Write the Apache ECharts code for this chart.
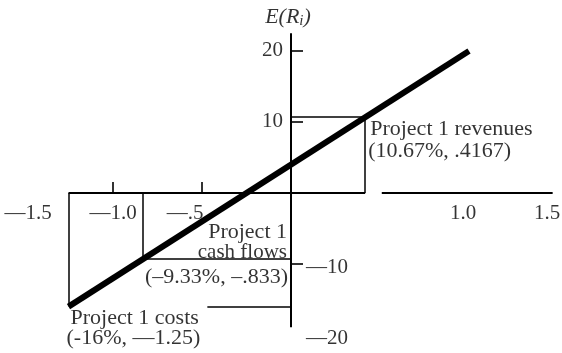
<!DOCTYPE html>
<html><head><meta charset="utf-8">
<script src="https://cdn.jsdelivr.net/npm/echarts@6/dist/echarts.min.js"></script>
<style>html,body{margin:0;padding:0;background:#fff}#c{width:562px;height:353px}</style>
</head><body><div id="c"></div>
<script>
// ---------- data ----------
const betaTickValues = [-1.5, -1.0, -0.5, 1.0, 1.5];
const betaTickLabels = ['—1.5', '—1.0', '—.5', '1.0', '1.5'];
const betaTickMarks = [-1.0, -0.5];
const returnTickValues = [20, 10, -10, -20];
const returnTickLabels = ['20', '10', '—10', '—20'];
const returnTickMarks = [20, 10, -10];
const lineBeta = [-1.25, 1.0];
const lineReturn = [-16, 20];
const projectBeta = [-1.25, -0.833, 0.4167];
const projectReturn = [-16, -9.33, 10.67];
const projectNames = ['Project 1 costs', 'Project 1', 'Project 1 revenues'];
const projectSubNames = ['', 'cash flows', ''];
const projectCoords = ['(-16%, —1.25)', '(–9.33%, –.833)', '(10.67%, .4167)'];
const betaAxisSpans = [[-1.25, 0.4167], [0.51, 1.47]];
const returnAxisSpan = [-18.9, 22.5];
const costsGuideFrom = -0.47;

// ---------- layout / style ----------
const FONT = 'Liberation Serif';
const FS = 21;
const FS_NOTE = 22;
const betaLabelNudge = [4, 0, -17, -6, -11];
const ink = '#000';

const chart = echarts.init(document.getElementById('c'), null, {renderer: 'canvas'});

function txt(x, y, text, align, dx, dy, size) {
  return {
    value: [x, y],
    label: {
      show: true, position: 'inside', formatter: text,
      align: align, verticalAlign: 'middle', offset: [dx, dy],
      fontFamily: FONT, fontSize: size || FS, color: ink
    }
  };
}

const texts = [];
betaTickValues.forEach((v, i) => texts.push(txt(v, 0, betaTickLabels[i], 'center', betaLabelNudge[i], 20)));
returnTickValues.forEach((v, i) => {
  if (v > 0) texts.push(txt(0, v, returnTickLabels[i], 'right', -8, -1));
  else texts.push(txt(0, v, returnTickLabels[i], 'left', 15, 3));
});
// costs
texts.push(txt(projectBeta[0], projectReturn[0], projectNames[0], 'left', 2, 12, FS_NOTE));
texts.push(txt(projectBeta[0], projectReturn[0], projectCoords[0], 'left', -2, 32, FS_NOTE));
// cash flows (anchored at the vertical axis)
texts.push(txt(0, projectReturn[1], projectNames[1], 'right', -4, -27, FS_NOTE));
texts.push(txt(0, projectReturn[1], projectSubNames[1], 'right', -4, -7, 21));
texts.push(txt(0, projectReturn[1], projectCoords[1], 'right', -3, 18, FS_NOTE));
// revenues
texts.push(txt(projectBeta[2], projectReturn[2], projectNames[2], 'left', 5, 12, FS_NOTE));
texts.push(txt(projectBeta[2], projectReturn[2], projectCoords[2], 'left', 3, 34, FS_NOTE));
// axis title
texts.push({
  value: [0, returnAxisSpan[1]],
  label: {
    show: true, position: 'inside', align: 'center', verticalAlign: 'middle', offset: [-3, -16],
    formatter: '{a|E(R}{b|i}{a|)}',
    rich: {
      a: {fontFamily: FONT, fontStyle: 'italic', fontSize: 22, color: ink},
      b: {fontFamily: FONT, fontStyle: 'italic', fontSize: 15, color: ink, padding: [8, 0, 0, 0]}
    }
  }
});

// guide segments
const guides = [];
guides.push([[projectBeta[0], 0], [projectBeta[0], projectReturn[0]]]);
guides.push([[costsGuideFrom, projectReturn[0]], [0, projectReturn[0]]]);
guides.push([[projectBeta[1], 0], [projectBeta[1], projectReturn[1]]]);
guides.push([[projectBeta[1], projectReturn[1]], [0, projectReturn[1]]]);
guides.push([[0, projectReturn[2]], [projectBeta[2], projectReturn[2]]]);
guides.push([[projectBeta[2], projectReturn[2]], [projectBeta[2], 0]]);

const axisSegs = betaAxisSpans.map(s => [[s[0], 0], [s[1], 0]]);
axisSegs.push([[0, returnAxisSpan[0]], [0, returnAxisSpan[1]]]);

chart.setOption({
  animation: false,
  backgroundColor: '#fff',
  grid: {left: 24, width: 534, top: 15.5, height: 319.5},
  xAxis: {type: 'value', min: -1.5, max: 1.5, show: false},
  yAxis: {type: 'value', min: -20, max: 25, show: false},
  series: [
    {
      type: 'lines', coordinateSystem: 'cartesian2d', silent: true,
      lineStyle: {color: ink, width: 1.5, opacity: 1},
      data: guides.map(c => ({coords: c}))
    },
    {
      type: 'lines', coordinateSystem: 'cartesian2d', silent: true,
      lineStyle: {color: ink, width: 2, opacity: 1},
      data: axisSegs.map(c => ({coords: c}))
    },
    {
      type: 'scatter', silent: true, symbol: 'rect', symbolSize: [2, 11], symbolOffset: [0, -5.5],
      itemStyle: {color: ink},
      data: betaTickMarks.map(v => [v, 0])
    },
    {
      type: 'scatter', silent: true, symbol: 'rect', symbolSize: [12, 2], symbolOffset: [6, 0],
      itemStyle: {color: ink},
      data: returnTickMarks.map(v => [0, v])
    },
    {
      type: 'line', silent: true, symbol: 'none',
      lineStyle: {color: ink, width: 6, cap: 'butt'},
      data: lineBeta.map((b, i) => [b, lineReturn[i]])
    },
    {
      type: 'scatter', silent: true, symbolSize: 0,
      data: texts
    }
  ]
});
</script>
</body></html>
